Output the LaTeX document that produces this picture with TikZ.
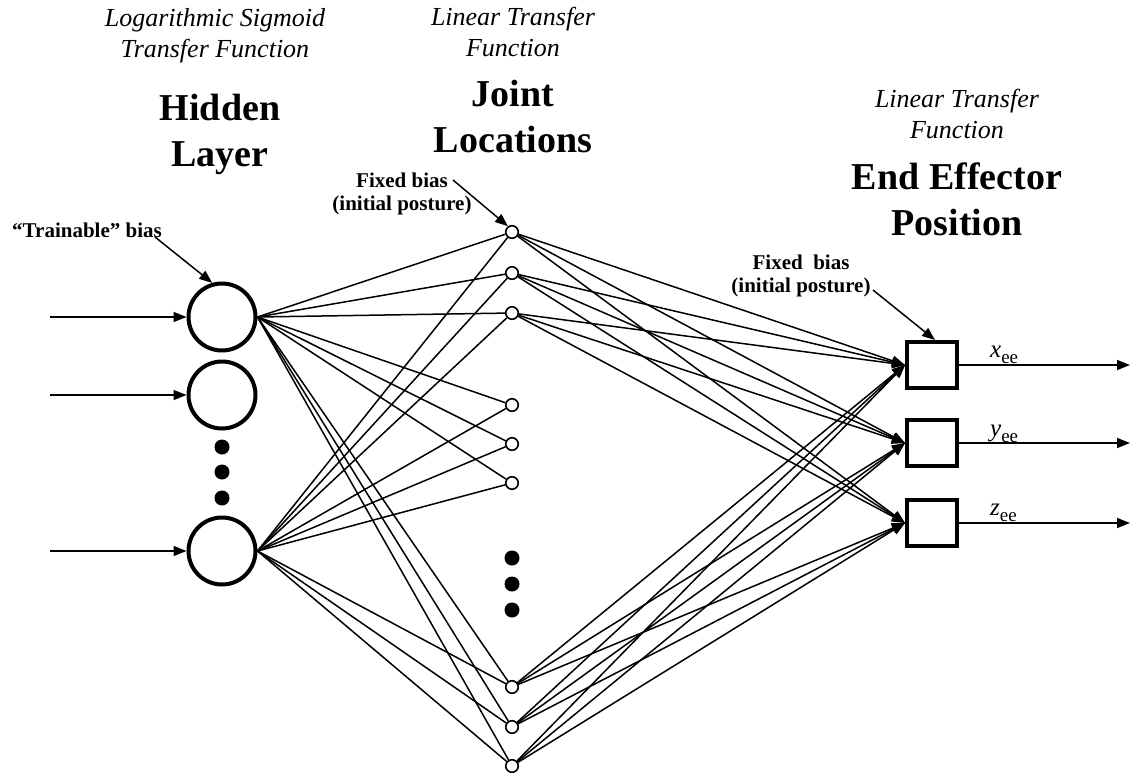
\documentclass[tikz,border=0pt]{standalone}
\usepackage{fontspec}
\setmainfont{Liberation Serif}
\usetikzlibrary{arrows.meta}
% output label: italic letter with upright "ee" subscript
\newcommand\eelabel[1]{{\fontsize{25}{25}\selectfont\itshape #1}\raisebox{-6pt}{\fontsize{19}{19}\selectfont ee}}
\begin{document}
\begin{tikzpicture}[x=1pt,y=-1pt,
  hidden/.style={circle,draw,line width=4pt,minimum size=67pt,inner sep=0pt},
  joint/.style={circle,draw,line width=1.6pt,minimum size=12.5pt,inner sep=0pt,fill=white},
  outbox/.style={rectangle,draw,line width=4pt,minimum width=50pt,minimum height=46pt,inner sep=0pt},
  dot/.style={circle,fill,inner sep=0pt,minimum size=15pt},
  wire/.style={line width=1.5pt},
  arr/.style={wire,-{Triangle[length=13pt,width=10pt]}},
  ital/.style={font=\fontsize{26}{31}\selectfont\itshape,align=center,inner sep=0pt},
  head/.style={font=\fontsize{38}{46}\selectfont\bfseries,align=center,inner sep=0pt},
  note/.style={font=\fontsize{21}{23}\selectfont\bfseries,align=center,inner sep=0pt},
]
\useasboundingbox (0,0) rectangle (1130,774);

% column titles
\node[ital] (lt1) at (215,36) {Logarithmic Sigmoid\\Transfer Function};
\node[ital] (lt2) at (513,32) {Linear Transfer\\Function};
\node[ital] (lt3) at (957,114) {Linear Transfer\\Function};
\node[head] (hd1) at (220,134) {Hidden\\Layer};
\node[head] (hd2) at (513,116) {Joint\\Locations};
\node[head] (hd3) at (957,199) {End Effector\\Position};

% hidden layer
\node[hidden] (h1) at (222,317) {};
\node[hidden] (h2) at (222,395) {};
\node[hidden] (h3) at (222,551) {};
\node[dot] (hd-a) at (222,447) {};
\node[dot] (hd-b) at (222,472) {};
\node[dot] (hd-c) at (222,498) {};

% joint layer
\foreach \n/\y in {1/232,2/273,3/313,4/405,5/444,6/483,7/687,8/727,9/766}
  \node[joint] (j\n) at (512,\y) {};
\node[dot] (jd-a) at (512,558) {};
\node[dot] (jd-b) at (512,584) {};
\node[dot] (jd-c) at (512,610) {};

% output layer
\node[outbox] (o1) at (932,365) {};
\node[outbox] (o2) at (932,443) {};
\node[outbox] (o3) at (932,523) {};

% inputs
\foreach \n/\y in {1/317,2/395,3/551} {
  \coordinate (in\n) at (50,\y);
  \draw[arr] (in\n) -- (h\n.west);
}

% hidden -> joint
\foreach \h in {1,3}
  \foreach \n in {1,...,9}
    \draw[wire] (h\h.east) -- (j\n);

% joint -> output
\foreach \n in {1,2,3,7,8,9}
  \foreach \o in {1,2,3}
    \draw[arr] (j\n) -- (o\o.west);

% outputs
\foreach \o/\y in {1/365,2/443,3/523} {
  \coordinate (out\o) at (1130,\y);
  \draw[arr] (o\o.east) -- (out\o);
}
\node[anchor=base west,inner sep=0pt] (lx) at (990,357) {\eelabel{x}};
\node[anchor=base west,inner sep=0pt] (ly) at (990,436) {\eelabel{y}};
\node[anchor=base west,inner sep=0pt] (lz) at (990,515) {\eelabel{z}};

% bias annotations
\node[note] (tb) at (87,230) {``Trainable'' bias};
\coordinate (tbs) at (155,237);
\draw[arr] (tbs) -- (h1.106);

\node[note] (fb1) at (402,194) {Fixed bias\\(initial posture)};
\coordinate (fbs1) at (453,180);
\draw[arr] (fbs1) -- (j1.125);

\node[note] (fb2) at (801,276) {Fixed~ bias\\(initial posture)};
\coordinate (fbs2) at (873,290);
\draw[arr] (fbs2) -- ([xshift=3pt]o1.north);
\end{tikzpicture}
\end{document}
